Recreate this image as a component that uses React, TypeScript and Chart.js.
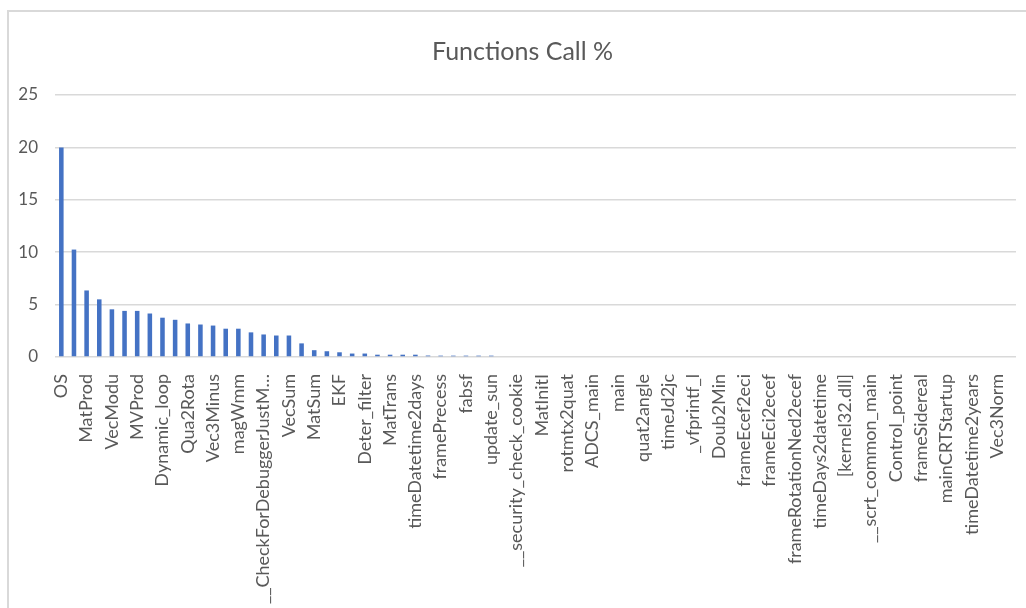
import React, { useEffect, useRef } from "react";
import { Chart, registerables } from "chart.js";

Chart.register(...registerables);

const chartTitle = "Functions Call %";

const functionNames: string[] = [
  "OS", "Vec3Cross", "MatProd", "QuatMult", "VecModu", "MatInv", "MVProd", "Vec3Dot",
  "Dynamic_loop", "Rota2Qua", "Qua2Rota", "Vec3Plus", "Vec3Minus", "magField", "magWmm", "sunVector",
  "__CheckForDebuggerJustMyCode", "VecScale", "VecSum", "MatMinus", "MatSum", "Kalman_gain", "EKF", "MatCopy",
  "Deter_filter", "timeJd2gmst", "MatTrans", "frameNutation", "timeDatetime2days", "sqrtf", "framePrecess", "update_mag",
  "fabsf", "__RTC_CheckEsp", "update_sun", "MatZero", "__security_check_cookie", "quat2rotmtx", "MatInitI", "ADCS_init",
  "rotmtx2quat", "angle2quat", "ADCS_main", "timeJc2jd", "main", "printf", "quat2angle", "Min2Doub",
  "timeJd2jc", "frameEcef2ned", "_vfprintf_l", "frameEci2orbit", "Doub2Min", "timeDatetime2jd", "frameEcef2eci", "[ntdll.dll]",
  "frameEci2ecef", "__scrt_initialize", "frameRotationNed2ecef", "Control_init", "timeDays2datetime", "frameGeodetic", "[kernel32.dll]", "invoke_main",
  "__scrt_common_main", "timeYears2datetime", "Control_point", "Vec3Scale", "frameSidereal", "_initterm", "mainCRTStartup", "exit",
  "timeDatetime2years", "atexit", "Vec3Norm", "Vec3Copy",
];

const callPercent: number[] = [
  20.0, 10.25, 6.35, 5.5, 4.55, 4.4, 4.4, 4.15,
  3.75, 3.55, 3.2, 3.1, 3.0, 2.7, 2.7, 2.35,
  2.15, 2.05, 2.05, 1.3, 0.65, 0.55, 0.45, 0.33,
  0.33, 0.22, 0.22, 0.22, 0.22, 0.14, 0.13, 0.13,
  0.13, 0.13, 0.13, 0, 0, 0, 0, 0,
  0, 0, 0, 0, 0, 0, 0, 0,
  0, 0, 0, 0, 0, 0, 0, 0,
  0, 0, 0, 0, 0, 0, 0, 0,
  0, 0, 0, 0, 0, 0, 0, 0,
  0, 0, 0, 0,
];

const yTicks: number[] = [0, 5, 10, 15, 20, 25];

const TEXT = "#595959";
const GRID = "#d9d9d9";
const BAR = "#4472C4";

function truncate(s: string): string {
  return s.length > 24 ? s.slice(0, 23) + "…" : s;
}

const widenYLabelArea = {
  id: "widenYLabelArea",
  afterLayout(chart: any) {
    const y = chart.scales.y;
    if (y) y.left = 0;
  },
};

export default function App() {
  const ref = useRef<HTMLCanvasElement | null>(null);

  useEffect(() => {
    if (!ref.current) return;
    const chart = new Chart(ref.current, {
      type: "bar",
      data: {
        labels: functionNames,
        datasets: [
          {
            data: callPercent,
            backgroundColor: BAR,
            borderWidth: 0,
            categoryPercentage: 1,
            barPercentage: 0.36,
          },
        ],
      },
      plugins: [widenYLabelArea],
      options: {
        animation: false,
        responsive: false,
        maintainAspectRatio: false,
        layout: { padding: { left: 29, right: 10, top: 0, bottom: 0 } },
        plugins: {
          legend: { display: false },
          tooltip: { enabled: false },
          title: {
            display: true,
            text: chartTitle,
            color: TEXT,
            font: { family: "Lato", size: 25, weight: "normal" },
            padding: { top: 37, bottom: 28 },
          },
        },
        scales: {
          x: {
            grid: { display: false },
            border: { display: false },
            ticks: {
              autoSkip: false,
              minRotation: 90,
              maxRotation: 90,
              padding: 9,
              color: TEXT,
              font: { family: "Lato", size: 18 },
              callback: (_v: any, i: number) => (i % 2 === 0 ? truncate(functionNames[i]) : ""),
            },
            afterFit: (s: any) => {
              s.height = 251;
              s.paddingLeft = 0;
              s.paddingRight = 0;
            },
          },
          y: {
            min: 0,
            max: 25,
            afterBuildTicks: (s: any) => {
              s.ticks = yTicks.map((v) => ({ value: v }));
            },
            grid: { color: GRID, lineWidth: 1.5, drawTicks: false },
            border: { display: false },
            ticks: {
              padding: 17,
              color: TEXT,
              font: { family: "Lato", size: 17 },
            },
            afterFit: (s: any) => {
              s.width = 26;
            },
          },
        },
      },
    });
    return () => chart.destroy();
  }, []);

  return (
    <div style={{ position: "absolute", left: 0, top: 0, width: 1026, height: 608, background: "#fff" }}>
      <div
        style={{
          position: "absolute",
          left: 7,
          top: 10,
          width: 1019,
          height: 598,
          borderLeft: `2px solid ${GRID}`,
          borderTop: `2px solid ${GRID}`,
          boxSizing: "border-box",
        }}
      />
      <canvas ref={ref} width={1026} height={608} style={{ position: "absolute", left: 0, top: 0 }} />
    </div>
  );
}
